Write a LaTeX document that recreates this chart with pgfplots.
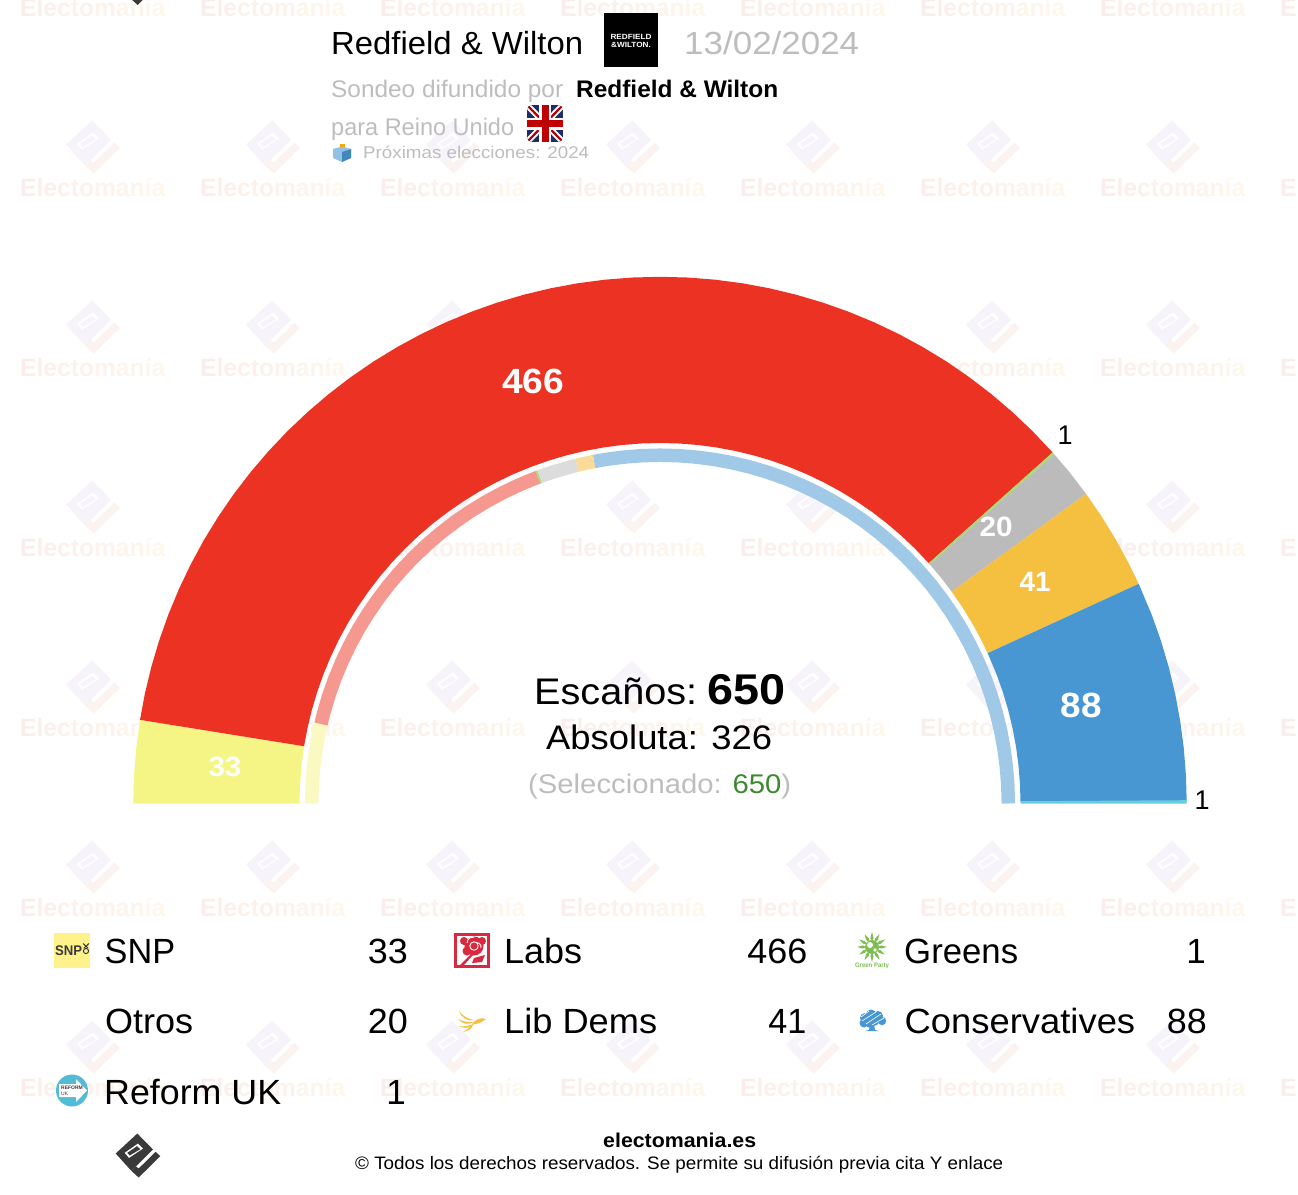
\documentclass[border=0pt]{standalone}
\usepackage{fontspec}
\setmainfont{Liberation Sans}
\usepackage{graphicx}
\usepackage{pgfplots}
\pgfplotsset{compat=1.18}
\definecolor{cSNP}{HTML}{F5F586}
\definecolor{cLab}{HTML}{EC3323}
\definecolor{cGrn}{HTML}{A8DC70}
\definecolor{cOtr}{HTML}{BBBBBB}
\definecolor{cLD}{HTML}{F5BF40}
\definecolor{cCon}{HTML}{4897D3}
\definecolor{cRef}{HTML}{66CDE0}
\definecolor{pSNP}{HTML}{FAF9C2}
\definecolor{pLab}{HTML}{F59890}
\definecolor{pOtr}{HTML}{DCDCDC}
\definecolor{pLD}{HTML}{FADB9A}
\definecolor{pCon}{HTML}{A0C9E7}
\definecolor{gtxt}{HTML}{BDBDBD}
\definecolor{wmA}{HTML}{FBEDEB}
\definecolor{wmB}{HTML}{FEF7EC}
\definecolor{wmF}{HTML}{F6F3FA}
\definecolor{wmC}{HTML}{FBF3F0}
\definecolor{dk}{HTML}{3A3A3A}
\newcommand{\tx}[6][black]{\node[anchor=base west,inner sep=0pt,text=#1] at (#2,#3) {\resizebox{#4pt}{\height}{\fontsize{#5}{#5}\selectfont #6}};}
\newcommand{\tc}[6][white]{\node[anchor=base,inner sep=0pt,text=#1] at (#2,#3) {\resizebox{#4pt}{\height}{\fontsize{#5}{#5}\selectfont\bfseries #6}};}
\newcommand{\tr}[4]{\node[anchor=base east,inner sep=0pt] at (#1,#2) {\resizebox{#3pt}{\height}{\fontsize{35}{35}\selectfont #4}};}
\newsavebox{\wmbox}
\newcommand{\logo}[6]{\begin{scope}[shift={(#1,#2)},xscale=#3,yscale=-#3]
 \fill[#4] (-2,66)--(45,18)--(-20,-46)--(-67,6)--cycle;
 \fill[white] (0,36)--(15,21)--(-27,-7)--(-40,8)--cycle;
 \fill[#6] (-3,28)--(7,19)--(-25,0)--(-32,8)--cycle;
 \fill[#5] (-20,-46)--(2,-66)--(67,-2)--(53,11)--(2,-39)--(-7,-32)--cycle;
\end{scope}}
\begin{document}%
\sbox{\wmbox}{\resizebox{145pt}{\height}{\fontsize{25}{25}\selectfont\bfseries%
 \textcolor{wmA}{E}\textcolor{wmB!10!wmA}{l}\textcolor{wmB!20!wmA}{e}\textcolor{wmB!30!wmA}{c}\textcolor{wmB!40!wmA}{t}\textcolor{wmB!50!wmA}{o}\textcolor{wmB!60!wmA}{m}\textcolor{wmB!70!wmA}{a}\textcolor{wmB!80!wmA}{n}\textcolor{wmB!90!wmA}{í}\textcolor{wmB}{a}}}%
\begin{tikzpicture}[x=1pt,y=1pt]
\path[use as bounding box] (0,0) rectangle (1298,-1194);
\clip (0,0) rectangle (1298,-1194);
\begin{scope}[y=-1pt]
% watermark
\foreach \yy in {16,196,376,556,736,916,1096}{
 \foreach \xx in {20,200,380,560,740,920,1100,1280}{
  \node[anchor=base west,inner sep=0pt] at (\xx,\yy) {\usebox{\wmbox}};}}
\foreach \yy in {148,328,508,688,868,1048}{
 \foreach \xx in {93,273,453,633,813,993,1173}{
  \logo{\xx}{\yy-1}{0.403}{wmF}{wmC}{wmF}}}
\logo{137}{-17}{0.333}{dk}{dk}{dk}
\end{scope}
% data
\begin{axis}[at={(0pt,-1194pt)},anchor=south west,x=1pt,y=1pt,xmin=-660,xmax=638,ymin=-390.5,ymax=803.5,hide axis,clip=false]
% SNP 33
\addplot[fill=cSNP,draw=none,data cs=polar] coordinates {(180,526.7)(177,526.7)(174,526.7)(170.86,526.7)(170.86,360.5)(174,360.5)(177,360.5)(180,360.5)} -- cycle;
% Labs 466
\addplot[fill=cLab,draw=none,data cs=polar] coordinates {(170.86,526.7)(168,526.7)(165,526.7)(162,526.7)(159,526.7)(156,526.7)(153,526.7)(150,526.7)(147,526.7)(144,526.7)(141,526.7)(138,526.7)(135,526.7)(132,526.7)(129,526.7)(126,526.7)(123,526.7)(120,526.7)(117,526.7)(114,526.7)(111,526.7)(108,526.7)(105,526.7)(102,526.7)(99,526.7)(96,526.7)(93,526.7)(90,526.7)(87,526.7)(84,526.7)(81,526.7)(78,526.7)(75,526.7)(72,526.7)(69,526.7)(66,526.7)(63,526.7)(60,526.7)(57,526.7)(54,526.7)(51,526.7)(48,526.7)(45,526.7)(41.8,526.7)(41.8,360.5)(45,360.5)(48,360.5)(51,360.5)(54,360.5)(57,360.5)(60,360.5)(63,360.5)(66,360.5)(69,360.5)(72,360.5)(75,360.5)(78,360.5)(81,360.5)(84,360.5)(87,360.5)(90,360.5)(93,360.5)(96,360.5)(99,360.5)(102,360.5)(105,360.5)(108,360.5)(111,360.5)(114,360.5)(117,360.5)(120,360.5)(123,360.5)(126,360.5)(129,360.5)(132,360.5)(135,360.5)(138,360.5)(141,360.5)(144,360.5)(147,360.5)(150,360.5)(153,360.5)(156,360.5)(159,360.5)(162,360.5)(165,360.5)(168,360.5)(170.86,360.5)} -- cycle;
% Greens 1
\addplot[fill=cGrn,draw=none,data cs=polar] coordinates {(41.8,526.7)(41.54,526.7)(41.54,360.5)(41.8,360.5)} -- cycle;
% Otros 20
\addplot[fill=cOtr,draw=none,data cs=polar] coordinates {(41.54,526.7)(39,526.7)(36,526.7)(36,360.5)(39,360.5)(41.54,360.5)} -- cycle;
% Lib Dems 41
\addplot[fill=cLD,draw=none,data cs=polar] coordinates {(36,526.7)(33,526.7)(30,526.7)(27,526.7)(24.65,526.7)(24.65,360.5)(27,360.5)(30,360.5)(33,360.5)(36,360.5)} -- cycle;
% Conservatives 88
\addplot[fill=cCon,draw=none,data cs=polar] coordinates {(24.65,526.7)(21,526.7)(18,526.7)(15,526.7)(12,526.7)(9,526.7)(6,526.7)(3,526.7)(0.28,526.7)(0.28,360.5)(3,360.5)(6,360.5)(9,360.5)(12,360.5)(15,360.5)(18,360.5)(21,360.5)(24.65,360.5)} -- cycle;
% Reform UK 1
\addplot[fill=cRef,draw=none,data cs=polar] coordinates {(0.36,526.7)(0,526.7)(0,360.5)(0.36,360.5)} -- cycle;
% inner ring
\addplot[pSNP,line width=13.5pt,data cs=polar] coordinates {(180,348.3)(177,348.3)(174,348.3)(171,348.3)(168,348.3)(166.8,348.3)};
\addplot[pLab,line width=13.5pt,data cs=polar] coordinates {(166.8,348.3)(165,348.3)(162,348.3)(159,348.3)(156,348.3)(153,348.3)(150,348.3)(147,348.3)(144,348.3)(141,348.3)(138,348.3)(135,348.3)(132,348.3)(129,348.3)(126,348.3)(123,348.3)(120,348.3)(117,348.3)(114,348.3)(111.5,348.3)(110.5,348.3)};
\addplot[cGrn,line width=13.5pt,data cs=polar] coordinates {(110.5,348.3)(110.2,348.3)};
\addplot[pOtr,line width=13.5pt,data cs=polar] coordinates {(110.2,348.3)(108,348.3)(105,348.3)(103.8,348.3)};
\addplot[pLD,line width=13.5pt,data cs=polar] coordinates {(103.8,348.3)(102,348.3)(100.9,348.3)};
\addplot[pCon,line width=13.5pt,data cs=polar] coordinates {(100.9,348.3)(99,348.3)(96,348.3)(93,348.3)(90,348.3)(87,348.3)(84,348.3)(81,348.3)(78,348.3)(75,348.3)(72,348.3)(69,348.3)(66,348.3)(63,348.3)(60,348.3)(57,348.3)(54,348.3)(51,348.3)(48,348.3)(45,348.3)(42,348.3)(39,348.3)(36,348.3)(33,348.3)(30,348.3)(27,348.3)(24,348.3)(21,348.3)(18,348.3)(15,348.3)(12,348.3)(9,348.3)(6,348.3)(3,348.3)(0,348.3)};
\end{axis}
\begin{scope}[y=-1pt]
% header
\tx{331}{54}{252}{32}{Redfield \& Wilton}
\fill[black] (604,13) rectangle (658,67);
\node[inner sep=0pt,text=white,align=center] at (631,41) {\resizebox{41pt}{\height}{\fontsize{7.5}{7.5}\selectfont\bfseries\shortstack{REDFIELD\\[-0.5pt]\&WILTON.}}};
\tx[gtxt]{684}{54}{175}{32}{13/02/2024}
\tx[gtxt]{331}{97}{232}{24}{Sondeo difundido por}
\tx{576}{97}{202}{24}{\bfseries Redfield \& Wilton}
\tx[gtxt]{331}{135}{183}{24}{para Reino Unido}
\begin{scope}
 \clip[rounded corners=5pt] (527,105) rectangle (563,142);
 \fill[fill={rgb,255:red,30;green,45;blue,105}] (527,105) rectangle (563,142);
 \draw[white,line width=6pt] (527,105)--(563,142) (563,105)--(527,142);
 \draw[red!70!black,line width=2.2pt] (527,105)--(563,142) (563,105)--(527,142);
 \draw[white,line width=12pt] (545,105)--(545,142) (527,123.5)--(563,123.5);
 \draw[red!75!black,line width=7pt] (545,105)--(545,142) (527,123.5)--(563,123.5);
\end{scope}
% ballot box
\fill[orange!70!yellow] (339.5,144)--(344.5,144)--(344.5,150)--(339.5,150)--cycle;
\fill[cCon!60!white] (333,149)--(342,146.5)--(351,149)--(351,158)--(342,162)--(333,158)--cycle;
\fill[cCon!90!black] (342,152)--(351,149)--(351,158)--(342,162)--cycle;
\tx[gtxt]{363}{158}{226}{17}{Próximas elecciones: 2024}
% seat labels
\tc{533}{393}{62}{35}{466}
\tc{225}{776}{33}{28}{33}
\tc{996}{536}{33}{28}{20}
\tc{1035}{591}{31}{28}{41}
\tc{1081}{717}{41}{35}{88}
\node[anchor=base,inner sep=0pt] at (1065,444) {\fontsize{27}{27}\selectfont 1};
\node[anchor=base,inner sep=0pt] at (1202,809) {\fontsize{27}{27}\selectfont 1};
% centre
\tx{534}{704}{163}{37}{Escaños:}
\tx{707}{704}{78}{43}{\bfseries 650}
\tx{546}{749}{226}{34}{Absoluta: 326}
\tx[gtxt]{528}{793}{263}{27}{(Seleccionado: \textcolor[HTML]{3B8A2E}{650})}
% legend
\tx{104.5}{963}{70.5}{35}{SNP} \tr{408}{963}{40}{33}
\tx{504}{963}{78}{35}{Labs} \tr{807.5}{963}{60}{466}
\tx{904}{963}{114}{35}{Greens} \node[anchor=base east,inner sep=0pt] at (1206,963) {\fontsize{35}{35}\selectfont 1};
\tx{105}{1033}{88}{35}{Otros} \tr{408}{1033}{40}{20}
\tx{504}{1033}{153}{35}{Lib Dems} \tr{806.5}{1033}{38}{41}
\tx{904.5}{1033}{230.5}{35}{Conservatives} \tr{1207}{1033}{40}{88}
\tx{104}{1104}{177}{35}{Reform UK} \node[anchor=base east,inner sep=0pt] at (406,1104) {\fontsize{35}{35}\selectfont 1};
% SNP icon
\fill[fill={rgb,255:red,255;green,242;blue,138}] (54,932.5) rectangle (90,968);
\node[anchor=base west,inner sep=0pt,text=dk] at (55,955) {\resizebox{27pt}{\height}{\fontsize{14}{14}\selectfont\bfseries SNP}};
\draw[dk,line width=1pt] (86,951) circle (2.6);
\draw[dk,line width=1pt] (83,943.5)--(88,948) (89,943.5)--(84,948);
% Labour icon
\fill[fill={rgb,255:red,217;green,41;blue,63}] (454,932.5) rectangle (490,968);
\fill[white] (457,935.5) rectangle (487,965);
\fill[fill={rgb,255:red,217;green,41;blue,63}] (474,946) circle (9.5) (464,941) circle (4) (482,941) circle (4) (467,951) circle (4.5);
\draw[white,line width=0.9pt] (474,946) circle (4.2) (467,943) arc (180:280:6) (481,948) arc (10:-100:5);
\fill[fill={rgb,255:red,217;green,41;blue,63}] (470,955)--(473,955)--(464,965)--(460,965)--cycle (474,958)--(485,955)--(482,962)--(472,963)--cycle;
% Greens icon
\begin{scope}[shift={(872,947)}]
 \foreach \a in {0,30,...,330}{\fill[fill={rgb,255:red,125;green,190;blue,80},rotate=\a] (9,-1.6)--(15,0)--(9,1.6)--(6,0)--cycle;}
 \fill[fill={rgb,255:red,125;green,190;blue,80}] (0,0) circle (7);
 \fill[white] (-2,-2) circle (3) (3,3) circle (1.8);
\end{scope}
\node[anchor=base,inner sep=0pt,text={rgb,255:red,125;green,190;blue,80}] at (872,967) {\resizebox{34pt}{\height}{\fontsize{6.5}{6.5}\selectfont\bfseries Green Party}};
% Lib Dems icon
\fill[cLD] (459,1010.5) .. controls (462,1016) and (468,1019) .. (474,1020) .. controls (468,1022) and (460,1017) .. cycle
 (458,1019) .. controls (463,1022) and (468,1022) .. (474,1022) .. controls (468,1025) and (462,1024) .. cycle
 (458,1026) .. controls (463,1027) and (468,1026) .. (474,1024) .. controls (472,1028) and (464,1029) .. cycle
 (463,1032) .. controls (466,1030) and (470,1028) .. (473,1024) .. controls (473,1028) and (469,1031) .. cycle
 (486,1019) .. controls (481,1017) and (476,1019) .. (472,1024) .. controls (477,1025) and (482,1022) .. cycle;
% Conservatives icon
\fill[cCon] (865,1018) circle (5) (871,1015) circle (5.5) (878,1016) circle (5) (882,1021) circle (4.2) (874,1021) circle (5) (864,1023) circle (4.5) (870,1024) circle (4);
\draw[white,line width=0.6pt] (861,1017)--(869,1011) (862,1021)--(876,1012) (866,1024)--(881,1014) (872,1025)--(884,1018);
\fill[cCon] (870,1025)--(874,1025)--(875,1030)--(879,1031)--(865,1031)--(869,1030)--cycle;
% Reform icon
\fill[fill={rgb,255:red,82;green,187;blue,214}] (72,1090.5) circle (16);
\fill[white] (59,1084)--(76,1084)--(76,1079)--(87,1090.5)--(76,1102)--(76,1097)--(59,1097)--cycle;
\node[anchor=west,inner sep=0pt,text=dk] at (61,1087.5) {\fontsize{5}{5}\selectfont\bfseries REFORM};
\node[anchor=west,inner sep=0pt,text=dk] at (61,1093.5) {\fontsize{5}{5}\selectfont UK};
% footer
\logo{138}{1155.5}{0.333}{dk}{dk}{dk}
\tx{603}{1147}{153}{20}{\bfseries electomania.es}
\tx{355}{1169}{648}{18}{© Todos los derechos reservados. Se permite su difusión previa cita Y enlace}
\end{scope}
\end{tikzpicture}%
\end{document}
